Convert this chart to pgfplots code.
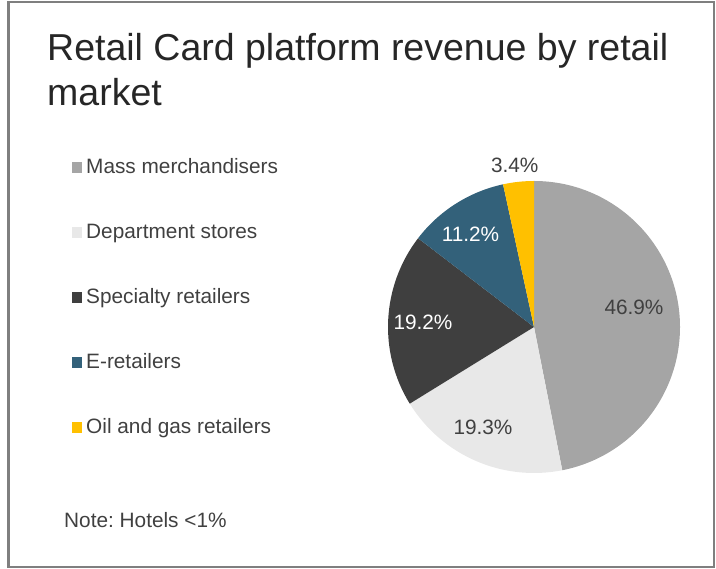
\documentclass[border=0pt]{standalone}
\usepackage{pgfplots}
\usepackage{pgfplotstable}
\pgfplotsset{compat=1.18}
\usepackage{fontspec}
\setmainfont{Liberation Sans}
\frenchspacing

\definecolor{massc}{HTML}{A5A5A5}
\definecolor{deptc}{HTML}{E8E8E8}
\definecolor{specc}{HTML}{3F3F3F}
\definecolor{etailc}{HTML}{33617A}
\definecolor{oilc}{HTML}{FFC000}
\definecolor{darktxt}{HTML}{404040}
\definecolor{titlec}{HTML}{262626}
\definecolor{bordc}{HTML}{7F7F7F}

% slices, clockwise from 12 o'clock; lx/ly = label base point in pixels from top left
\pgfplotstableread[col sep=comma]{
label,share,fillc,textc,lx,ly
Mass merchandisers,46.9,massc,darktxt,634,315
Department stores,19.3,deptc,darktxt,483,435
Specialty retailers,19.2,specc,white,423,330
E-retailers,11.2,etailc,white,470.5,241.7
Oil and gas retailers,3.4,oilc,darktxt,514.7,172.7
}\slicetab

\tikzset{
  pct/.style={anchor=base, inner sep=0pt, font=\fontsize{20.8bp}{25bp}\selectfont},
  legtxt/.style={anchor=base west, inner sep=0pt, text=darktxt, font=\fontsize{20.8bp}{25bp}\selectfont},
}

\begin{document}
\begin{tikzpicture}
\begin{axis}[
  width=716bp, height=569bp, scale only axis,
  xmin=0, xmax=716, ymin=0, ymax=569,
  hide axis, clip=false,
]
  % keep the whole canvas as bounding box
  \path (axis cs:0,0) rectangle (axis cs:716,569);
  % frame
  \draw[line width=2.2bp, bordc] (axis cs:8.5,1.8) rectangle (axis cs:714,567);

  % title
  \node[anchor=base west, inner sep=0pt, text=titlec, font=\fontsize{37.5bp}{45bp}\selectfont]
    at (axis cs:47,508) {Retail Card platform revenue by retail};
  \node[anchor=base west, inner sep=0pt, text=titlec, font=\fontsize{37.5bp}{45bp}\selectfont]
    at (axis cs:47,463) {market};

  \gdef\astart{90}
  \pgfplotsinvokeforeach{0,...,4}{
    \pgfplotstablegetelem{#1}{label}\of\slicetab \let\vlab\pgfplotsretval
    \pgfplotstablegetelem{#1}{share}\of\slicetab \let\vshare\pgfplotsretval
    \pgfplotstablegetelem{#1}{fillc}\of\slicetab \let\vcol\pgfplotsretval
    \pgfplotstablegetelem{#1}{textc}\of\slicetab \let\vtc\pgfplotsretval
    \pgfplotstablegetelem{#1}{lx}\of\slicetab \let\vlx\pgfplotsretval
    \pgfplotstablegetelem{#1}{ly}\of\slicetab \let\vly\pgfplotsretval
    \pgfmathsetmacro\aend{\astart-3.6*\vshare}
    \pgfmathsetmacro\lly{569-\vly}
    \pgfmathsetmacro\legy{395.7-65*#1}
    \pgfmathsetmacro\sqa{\legy+0.6}
    \pgfmathsetmacro\sqb{\legy+10.8}
    \edef\temp{%
      \noexpand\fill[\vcol] (axis cs:534,242) -- ++(\astart:146bp)
        arc[start angle=\astart, end angle=\aend, radius=146bp] -- cycle;
      \noexpand\node[pct, text=\vtc] at (axis cs:\vlx,\lly) {\vshare\%};
      \noexpand\fill[\vcol] (axis cs:72.3,\sqa) rectangle (axis cs:81.5,\sqb);
      \noexpand\node[legtxt] at (axis cs:86,\legy) {\vlab};
    }\temp
    \xdef\astart{\aend}
  }

  \node[legtxt] at (axis cs:64,41.3) {Note: Hotels <1\%};
\end{axis}
\end{tikzpicture}
\end{document}
